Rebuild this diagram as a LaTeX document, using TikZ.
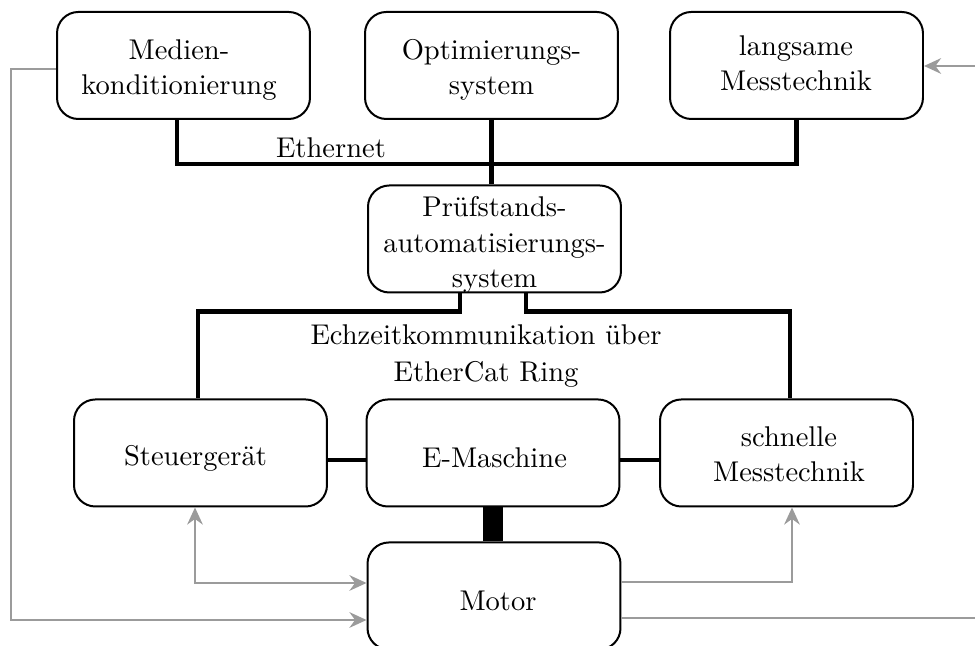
\documentclass[tikz,border=0pt]{standalone}
\usetikzlibrary{arrows.meta,calc}
\definecolor{siggray}{RGB}{155,155,155}
\begin{document}
\begin{tikzpicture}[x=0.3504pt,y=-0.3504pt,
  box/.style={draw, line width=0.7pt, rounded corners=7.5pt,
    minimum width=88.65pt, minimum height=37.5pt, inner sep=0pt},
  % multi-line texts are placed by the baseline of their last line
  txt/.style={anchor=base, align=center, inner sep=0pt,
    font=\fontsize{10}{12.5}\selectfont},
  bus/.style={line width=1.6pt},
  shaft/.style={line width=7pt},
  tip/.tip={Stealth[length=6pt,width=5.5pt,inset=2pt]},
  sig/.style={draw=siggray, line width=0.7pt, -tip},
  sigboth/.style={draw=siggray, line width=0.7pt, tip-tip},
]
\clip (0,0) rectangle (975,646);

% upper row
\node[box] (med)  at (183.5,65.5) {};
\node[box] (opt)  at (491.5,65.5) {};
\node[box] (lang) at (796.5,65.5) {};
% automation system
\node[box] (pas)  at (494.5,239) {};
% lower row
\node[box] (steu) at (200.5,453) {};
\node[box] (ema)  at (493,453) {};
\node[box] (schn) at (786.5,453) {};
\node[box] (mot)  at (494,596) {};

% box texts
\node[txt] (tmed)  at (179,95)    {Medien-\\konditionierung};
\node[txt] (topt)  at (491.5,95)  {Optimierungs-\\system};
\node[txt] (tlang) at (796,91)    {langsame\\Messtechnik};
\node[txt] (tpas)  at (494.5,288) {Prüfstands-\\automatisierungs-\\system};
\node[txt] (tsteu) at (195.5,466) {Steuergerät};
\node[txt] (tema)  at (494.5,468) {E-Maschine};
\node[txt] (tschn) at (789,482)   {schnelle\\Messtechnik};
\node[txt] (tmot)  at (498,611)   {Motor};

% bus labels
\node[txt] (eth) at (331,158) {Ethernet};
\node[txt, font=\fontsize{10}{13}\selectfont] (ecat) at (486,382)
  {Echzeitkommunikation über\\EtherCat Ring};

% Ethernet
\draw[bus] ($(med.south)+(-6.5,0)$) -- ++(0,44) -| (lang.south);
\draw[bus] (opt.south) -- (opt.south |- pas.north);

% EtherCat ring
\draw[bus] ($(pas.south)+(-34.5,0)$) -- ++(0,18) -| ($(steu.north)+(-2.5,0)$);
\draw[bus] ($(pas.south)+(31.5,0)$) -- ++(0,18) -| ($(schn.north)+(3.5,0)$);
\draw[bus] ($(steu.east)+(0,7)$) -- ($(ema.west)+(0,7)$);
\draw[bus] ($(ema.east)+(0,7)$) -- ($(schn.west)+(0,7)$);

% mechanical coupling
\draw[shaft] (ema.south) -- (ema.south |- mot.north);

% signal lines
\draw[sig] ($(med.west)+(0,3.5)$) -- ++(-45,0) |- ($(mot.west)+(0,24)$);
\draw[sigboth] ($(steu.south)+(-5.5,0)$) |- ($(mot.west)+(0,-13)$);
\draw[sig] ($(mot.east)+(0,-14)$) -| ($(schn.south)+(5.5,0)$);
\draw[sig] ($(mot.east)+(0,22.5)$) -- ++(385,0) |- ($(lang.east)+(0,0.5)$);
\end{tikzpicture}
\end{document}
